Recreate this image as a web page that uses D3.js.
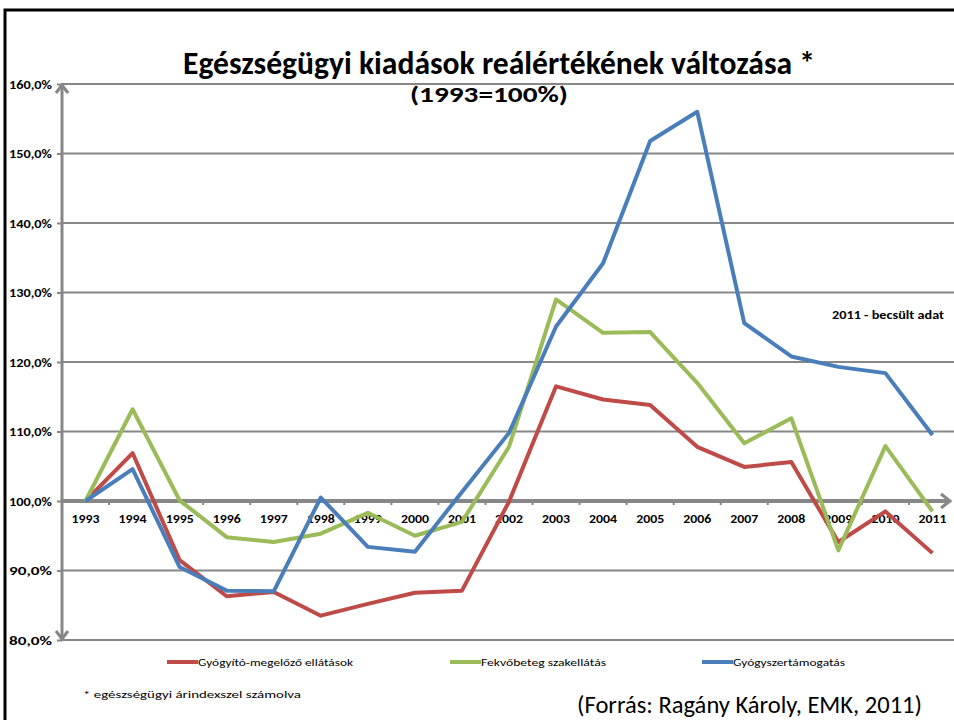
<!DOCTYPE html>
<html>
<head>
<meta charset="utf-8">
<script src="https://cdn.jsdelivr.net/npm/d3@7"></script>
<style>
  body { margin: 0; background: #fff; }
  svg { display: block; font-family: Carlito, "Open Sans", sans-serif; }
</style>
</head>
<body>
<script>
// data (1993 = 100%)
const years = ["1993","1994","1995","1996","1997","1998","1999","2000","2001","2002",
               "2003","2004","2005","2006","2007","2008","2009","2010","2011"];
const gyogyito = [100, 106.9, 91.5, 86.3, 86.9, 83.5, 85.2, 86.8, 87.1, 99.9,
                  116.5, 114.6, 113.8, 107.8, 104.9, 105.6, 94.1, 98.5, 92.5];
const fekvobeteg = [100, 113.2, 100.1, 94.8, 94.1, 95.3, 98.3, 95.0, 97.0, 107.8,
                    129.0, 124.2, 124.3, 117.0, 108.3, 111.9, 92.9, 107.9, 98.5];
const gyogyszer = [100, 104.6, 90.5, 87.1, 87.0, 100.5, 93.4, 92.7, 101.3, 109.8,
                   125.1, 134.2, 151.8, 156.0, 125.6, 120.8, 119.3, 118.4, 109.5];
const yTicks = [80, 90, 100, 110, 120, 130, 140, 150, 160];

const series = [
  {name: "Gyógyító-megelőző ellátások", values: gyogyito, color: "#BE4B48", lx: 167, tw: 155},
  {name: "Fekvőbeteg szakellátás", values: fekvobeteg, color: "#9BBB59", lx: 450, tw: 125},
  {name: "Gyógyszertámogatás", values: gyogyszer, color: "#4A7EBB", lx: 702, tw: 112}
];

const W = 954, H = 720;
const svg = d3.select("body").append("svg").attr("width", W).attr("height", H);

const x = d3.scaleBand().domain(years).range([62, 956]);
const y = d3.scaleLinear().domain([80, 160]).range([640, 84]);
const cx = d => x(d) + x.bandwidth() / 2;
const axisGray = "#878787";
const fontStack = "Carlito, 'Open Sans', sans-serif";

// outer frame (only top and left edges show)
svg.append("path")
  .attr("d", "M5,720 V10 H954")
  .attr("fill", "none").attr("stroke", "#000").attr("stroke-width", 3);

// gridlines
svg.append("g").selectAll("line")
  .data(yTicks.filter(t => t !== 100))
  .join("line")
  .attr("x1", 62).attr("x2", 954)
  .attr("y1", d => y(d)).attr("y2", d => y(d))
  .attr("stroke", axisGray).attr("stroke-width", 2);

// y axis labels + ticks
const yAxis = svg.append("g").attr("transform", "translate(62,0)")
  .call(d3.axisLeft(y).tickValues(yTicks).tickSize(5)
    .tickFormat(d => d3.format(".1f")(d).replace(".", ",") + "%"));
yAxis.select(".domain").remove();
yAxis.selectAll(".tick line").attr("stroke", axisGray).attr("stroke-width", 2);
yAxis.selectAll(".tick text")
  .attr("x", -10).attr("dy", "0.35em")
  .attr("font-size", 12).attr("font-weight", "bold").attr("fill", "#000")
  .attr("textLength", 43).attr("lengthAdjust", "spacingAndGlyphs")
  .style("font-family", fontStack);

// vertical axis with arrows at both ends
svg.append("line")
  .attr("x1", 62).attr("x2", 62).attr("y1", 84).attr("y2", 640)
  .attr("stroke", axisGray).attr("stroke-width", 3);
svg.append("path")
  .attr("d", "M56,93 L62,85 L68,93 M56,631 L62,639 L68,631")
  .attr("fill", "none").attr("stroke", axisGray).attr("stroke-width", 3);

// x axis on the 100% line
const y100 = y(100);
svg.append("line")
  .attr("x1", 62).attr("x2", 948).attr("y1", y100).attr("y2", y100)
  .attr("stroke", axisGray).attr("stroke-width", 4);
svg.append("path")
  .attr("d", `M941,${y100 - 7} L950,${y100} L941,${y100 + 7}`)
  .attr("fill", "none").attr("stroke", axisGray).attr("stroke-width", 3);
// small tick marks between categories
svg.append("g").selectAll("line")
  .data(years.slice(1))
  .join("line")
  .attr("x1", d => x(d)).attr("x2", d => x(d))
  .attr("y1", y100).attr("y2", y100 + 4)
  .attr("stroke", axisGray).attr("stroke-width", 2);

const xAxis = svg.append("g").attr("transform", `translate(0,${y100})`)
  .call(d3.axisBottom(x).tickSize(0).tickPadding(13));
xAxis.select(".domain").remove();
xAxis.selectAll(".tick text")
  .attr("font-size", 12).attr("font-weight", "bold").attr("fill", "#000")
  .attr("textLength", 28).attr("lengthAdjust", "spacingAndGlyphs")
  .style("font-family", fontStack);

// series lines
const line = d3.line().x((d, i) => cx(years[i])).y(d => y(d));
svg.append("g").selectAll("path")
  .data(series)
  .join("path")
  .attr("d", d => line(d.values))
  .attr("fill", "none")
  .attr("stroke", d => d.color)
  .attr("stroke-width", 4)
  .attr("stroke-linejoin", "round");

// titles
svg.append("text")
  .attr("x", 499).attr("y", 74).attr("text-anchor", "middle")
  .attr("font-size", 33).attr("font-weight", "bold")
  .attr("textLength", 632).attr("lengthAdjust", "spacingAndGlyphs")
  .text("Egészségügyi kiadások reálértékének változása *");
svg.append("text")
  .attr("x", 489).attr("y", 102).attr("text-anchor", "middle")
  .attr("font-size", 22).attr("font-weight", "bold")
  .attr("textLength", 158).attr("lengthAdjust", "spacingAndGlyphs")
  .text("(1993=100%)");

// note
svg.append("text")
  .attr("x", 832).attr("y", 319)
  .attr("font-size", 12).attr("font-weight", "bold")
  .attr("textLength", 112).attr("lengthAdjust", "spacingAndGlyphs")
  .text("2011 - becsült adat");

// legend
const lg = svg.append("g").selectAll("g").data(series).join("g")
  .attr("transform", d => `translate(${d.lx},662)`);
lg.append("line").attr("x1", 0).attr("x2", 31)
  .attr("stroke", d => d.color).attr("stroke-width", 4);
lg.append("text").attr("x", 31).attr("dy", "0.35em")
  .attr("font-size", 11)
  .attr("textLength", d => d.tw).attr("lengthAdjust", "spacingAndGlyphs")
  .text(d => d.name);

// footnotes
svg.append("text")
  .attr("x", 83).attr("y", 698)
  .attr("font-size", 11)
  .attr("textLength", 218).attr("lengthAdjust", "spacingAndGlyphs")
  .text("* egészségügyi árindexszel számolva");
svg.append("text")
  .attr("x", 577).attr("y", 713)
  .attr("font-size", 24)
  .attr("textLength", 345).attr("lengthAdjust", "spacingAndGlyphs")
  .text("(Forrás: Ragány Károly, EMK, 2011)");
</script>
</body>
</html>
